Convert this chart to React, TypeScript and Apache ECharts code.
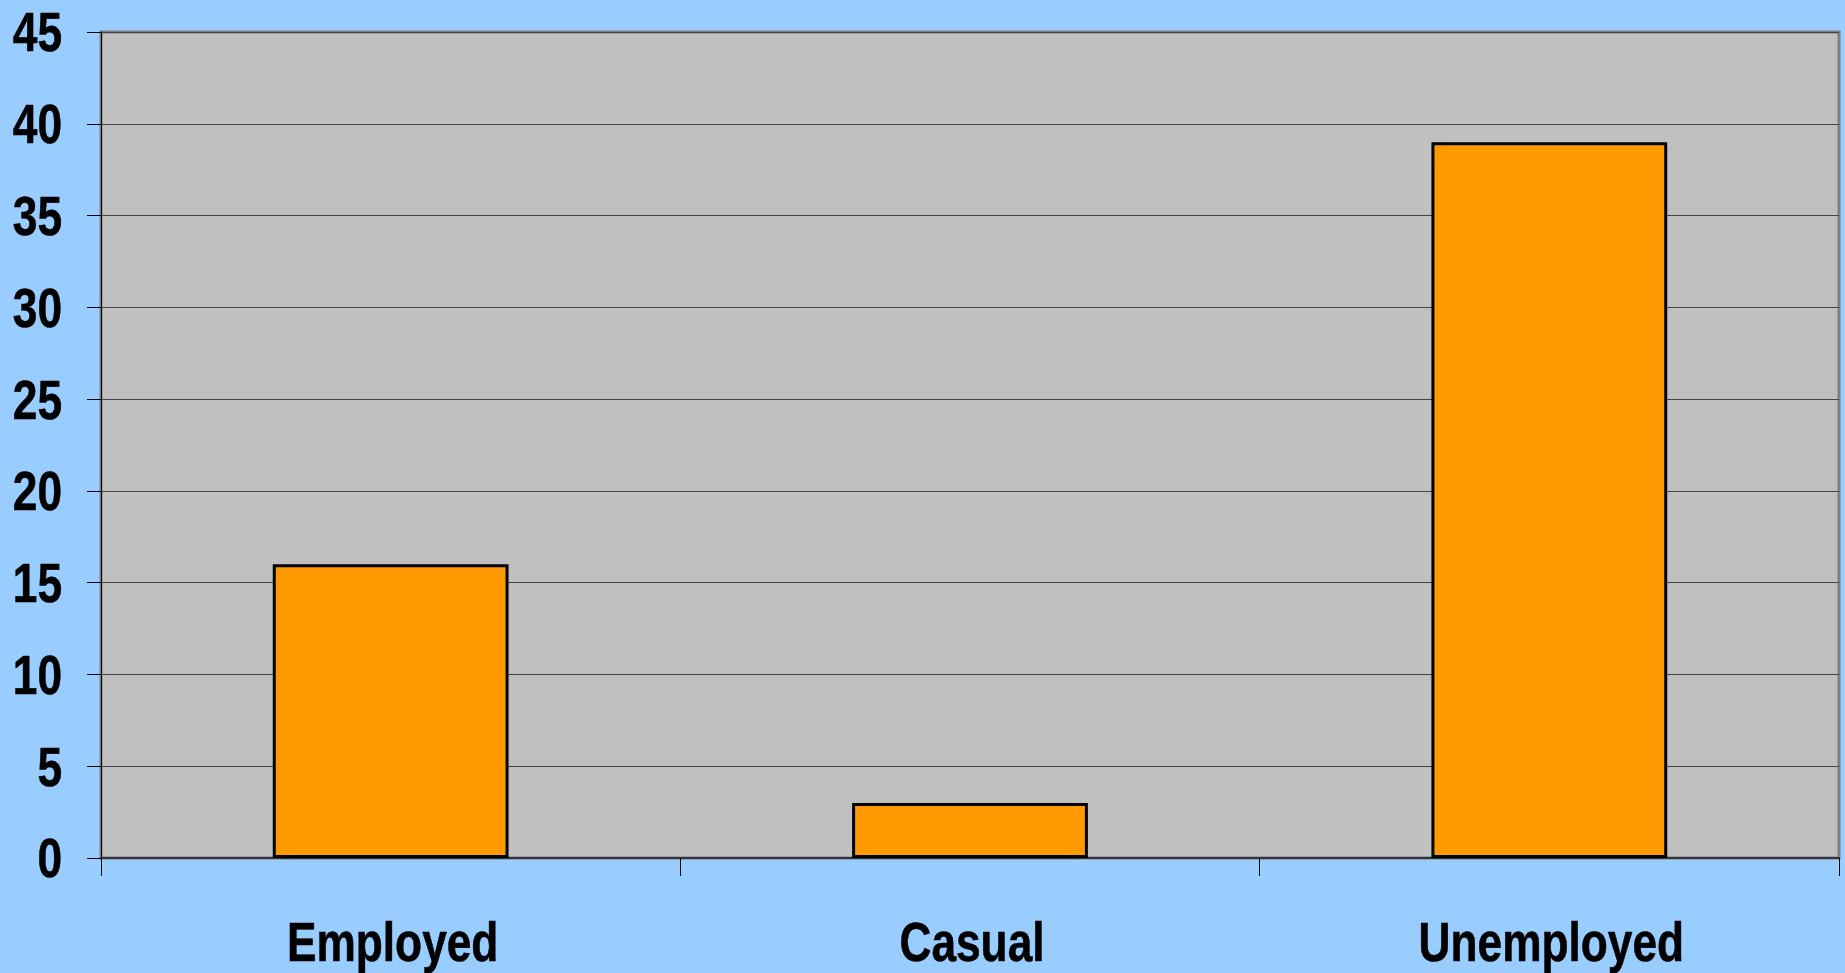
import React, { useEffect, useRef } from "react";
import * as echarts from "echarts";

const categories = ["Employed", "Casual", "Unemployed"];
const values = [16, 3, 39];
const yTicks = [0, 5, 10, 15, 20, 25, 30, 35, 40, 45];

const FONT = "'Liberation Sans', Arial, sans-serif";
const LABEL_SIZE = 56;
const NARROW = 0.79;

export default function App() {
  const ref = useRef<HTMLDivElement>(null);
  useEffect(() => {
    document.body.style.margin = "0";
    const chart = echarts.init(ref.current!, null, { renderer: "svg" });
    chart.setOption({
      animation: false,
      backgroundColor: "#99CCFF",
      grid: {
        left: 101,
        top: 32,
        right: 6,
        bottom: 115,
        show: true,
        backgroundColor: "#C0C0C0",
        borderColor: "#7F7F7F",
        borderWidth: 3,
      },
      xAxis: {
        type: "category",
        data: categories,
        boundaryGap: true,
        axisLine: { show: true, lineStyle: { color: "#333333", width: 2 } },
        axisTick: { show: true, length: 18, interval: 0, lineStyle: { color: "#000" } },
        axisLabel: { show: false },
        splitLine: { show: false },
      },
      yAxis: {
        type: "value",
        min: 0,
        max: 45,
        interval: 5,
        axisLine: { show: true, lineStyle: { color: "#000", width: 1 } },
        axisTick: { show: true, length: 14, lineStyle: { color: "#000" } },
        axisLabel: { show: false },
        splitLine: { show: true, lineStyle: { color: "#444444", width: 1 } },
      },
      series: [
        {
          type: "bar",
          data: values,
          barWidth: "40.7%",
          itemStyle: { color: "#FF9900", borderColor: "#000", borderWidth: 3 },
        },
      ],
    });

    const graphics: any[] = [];
    categories.forEach((c) => {
      const x = chart.convertToPixel({ xAxisIndex: 0 }, c) as number;
      const y0 = chart.convertToPixel({ yAxisIndex: 0 }, 0) as number;
      graphics.push({
        type: "text",
        x: x + 2,
        y: y0 + 84,
        scaleX: NARROW,
        silent: true,
        style: {
          text: c,
          x: 0,
          y: 0,
          fill: "#000",
          stroke: "#000",
          lineWidth: 0.6,
          fontFamily: FONT,
          fontWeight: "bold",
          fontSize: LABEL_SIZE,
          align: "center",
          verticalAlign: "middle",
        },
      });
    });
    yTicks.forEach((v) => {
      const y = chart.convertToPixel({ yAxisIndex: 0 }, v) as number;
      graphics.push({
        type: "text",
        x: 62,
        y: y,
        scaleX: NARROW,
        silent: true,
        style: {
          text: String(v),
          x: 0,
          y: 0,
          fill: "#000",
          stroke: "#000",
          lineWidth: 0.6,
          fontFamily: FONT,
          fontWeight: "bold",
          fontSize: LABEL_SIZE,
          align: "right",
          verticalAlign: "middle",
        },
      });
    });
    chart.setOption({ graphic: graphics });
    return () => chart.dispose();
  }, []);
  return <div ref={ref} style={{ position: "fixed", left: 0, top: 0, width: "100vw", height: "100vh" }} />;
}
